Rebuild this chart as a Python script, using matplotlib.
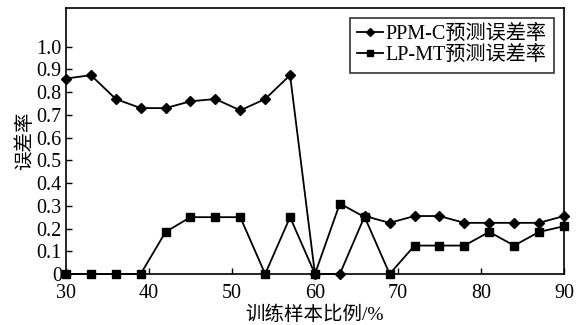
import matplotlib
matplotlib.use("Agg")
import matplotlib.pyplot as plt

plt.rcParams['font.family'] = ['Liberation Serif', 'Noto Sans CJK SC']
plt.rcParams['axes.unicode_minus'] = False

x_ratio = [30, 33, 36, 39, 42, 45, 48, 51, 54, 57, 60, 63, 66, 69, 72, 75, 78, 81, 84, 87, 90]
ppm_c = [0.86, 0.875, 0.77, 0.73, 0.73, 0.76, 0.77, 0.72, 0.77, 0.875, 0.0,
         0.0, 0.255, 0.225, 0.255, 0.255, 0.225, 0.225, 0.225, 0.225, 0.255]
lp_mt = [0.0, 0.0, 0.0, 0.0, 0.185, 0.25, 0.25, 0.25, 0.0, 0.25, 0.0,
         0.31, 0.25, 0.0, 0.125, 0.125, 0.125, 0.185, 0.125, 0.185, 0.21]
xticks = [30, 40, 50, 60, 70, 80, 90]
yticks = [0, 0.1, 0.2, 0.3, 0.4, 0.5, 0.6, 0.7, 0.8, 0.9, 1.0]
ytick_labels = ['0', '0.1', '0.2', '0.3', '0.4', '0.5', '0.6', '0.7', '0.8', '0.9', '1.0']

fig = plt.figure(figsize=(5.81, 3.25), dpi=100)
ax = fig.add_axes([0.1136, 0.157, 0.857, 0.818])

ax.plot(x_ratio, ppm_c, color='black', lw=1.3, marker='D', markersize=5.5,
        label='PPM-C预测误差率', clip_on=False, zorder=3)
ax.plot(x_ratio, lp_mt, color='black', lw=1.3, marker='s', markersize=6,
        label='LP-MT预测误差率', clip_on=False, zorder=3)

ax.set_xlim(30, 90)
ax.set_ylim(0, 1.17)
ax.set_xticks(xticks)
ax.set_yticks(yticks)
ax.set_yticklabels(ytick_labels)
ax.tick_params(direction='in', labelsize=14.5, length=4, width=1)
ax.tick_params(axis='x', pad=7)
ax.tick_params(axis='y', pad=3)
for s in ax.spines.values():
    s.set_linewidth(1.2)

ax.set_xlabel('训练样本比例/%', fontsize=14, labelpad=2)
ax.set_ylabel('误差率', fontsize=14, labelpad=2)

leg = ax.legend(loc='upper right', fontsize=14.5, frameon=True, fancybox=False,
                edgecolor='black', handlelength=1.3, handletextpad=0.15,
                borderpad=0.35, labelspacing=0.1, borderaxespad=0.5,
                markerscale=0.8)
leg.get_frame().set_linewidth(1.2)

fig.savefig('out.png', dpi=100)
